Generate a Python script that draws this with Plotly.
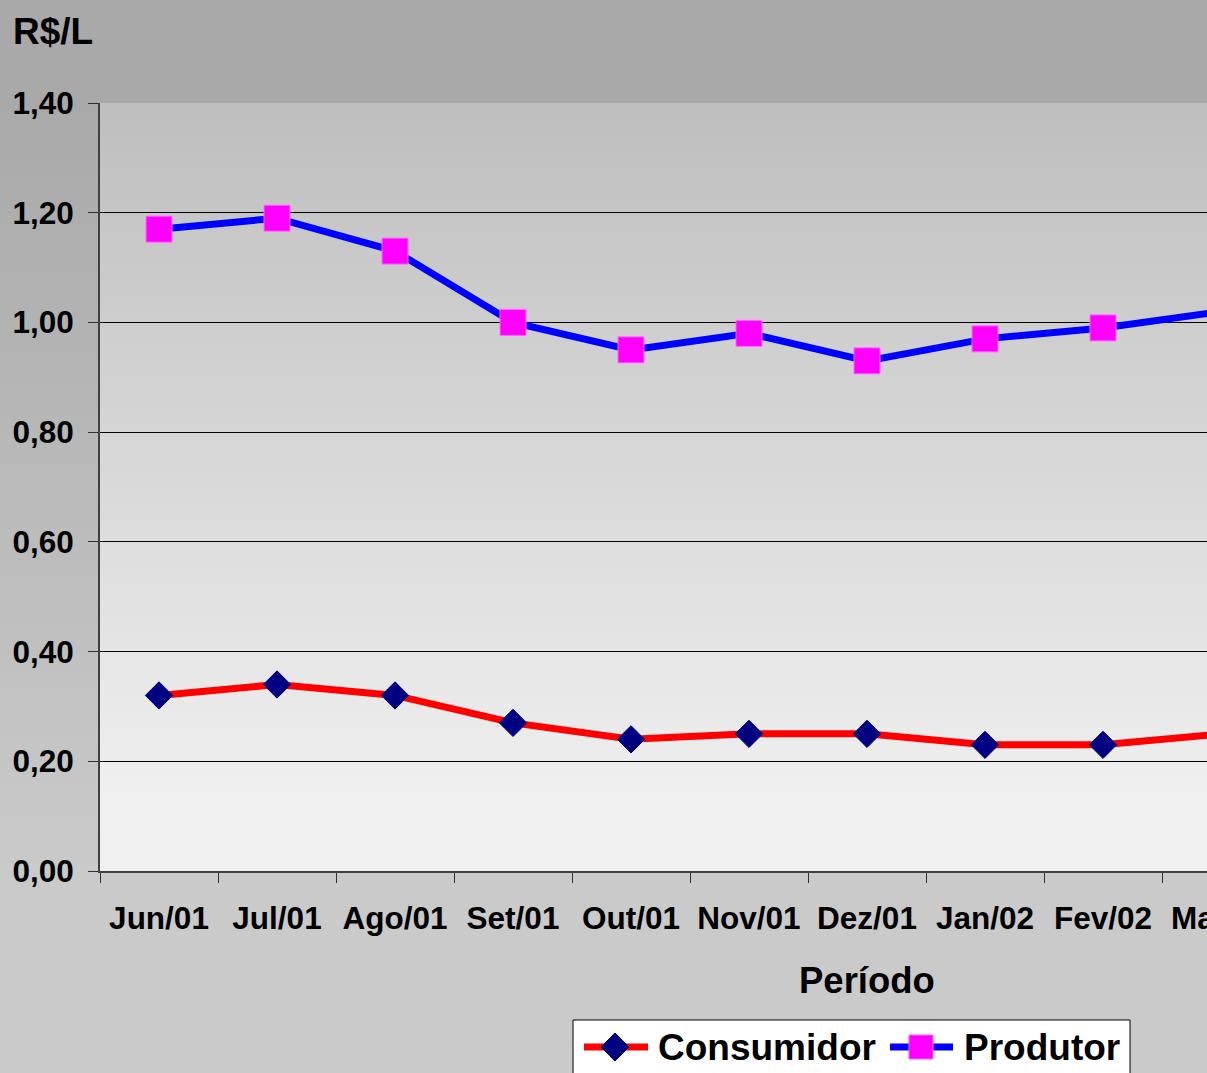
import plotly.graph_objects as go

# ---------------- data ----------------
periodos = ["Jun/01", "Jul/01", "Ago/01", "Set/01", "Out/01", "Nov/01",
            "Dez/01", "Jan/02", "Fev/02", "Mar/02"]
consumidor = [0.32, 0.34, 0.32, 0.27, 0.24, 0.25, 0.25, 0.23, 0.23, 0.25]
produtor = [1.17, 1.19, 1.13, 1.00, 0.95, 0.98, 0.93, 0.97, 0.99, 1.02]
y_ticks = [0.0, 0.2, 0.4, 0.6, 0.8, 1.0, 1.2, 1.4]

# ---------------- geometry ----------------
W, H = 1207, 1073
L, T, R = 100, 103, 0
B = H - 871
PW = W - L - R
PH = H - T - B

def px(xp):
    return (xp - L) / PW

def py(yp):
    return (H - B - yp) / PH

FONT = "Liberation Sans, Arial, sans-serif"
TICK_SIZE = 31.5

shapes = []
# paper background gradient (banded)
step = 16
for y0 in range(0, H, step):
    y1 = min(H, y0 + step)
    mid = (y0 + y1) / 2
    if mid < 100:
        g = 169
    else:
        t = min(1.0, (mid - 100) / 770)
        g = round(169 + (202 - 169) * t)
    shapes.append(dict(type="rect", xref="paper", yref="paper", layer="below",
                       x0=px(0), x1=px(W), y0=py(y1), y1=py(y0),
                       fillcolor=f"rgb({g},{g},{g})", line=dict(width=0)))
# plot area gradient (banded)
for y0 in range(T, H - B, step):
    y1 = min(H - B, y0 + step)
    mid = (y0 + y1) / 2
    t = min(1.0, (mid - T) / (800 - T))
    g = round(190 + (240 - 190) * t)
    shapes.append(dict(type="rect", xref="paper", yref="paper", layer="below",
                       x0=0, x1=1, y0=py(y1), y1=py(y0),
                       fillcolor=f"rgb({g},{g},{g})", line=dict(width=0)))

# manual legend
leg_y = 1047
shapes.append(dict(type="rect", xref="paper", yref="paper", layer="above",
                   x0=px(573), x1=px(1130), y0=py(1110), y1=py(1020),
                   fillcolor="white", line=dict(color="black", width=1)))
shapes.append(dict(type="line", xref="paper", yref="paper", layer="above",
                   x0=px(584), x1=px(648), y0=py(leg_y), y1=py(leg_y),
                   line=dict(color="#ff0000", width=7)))
cx, r = 615, 14
shapes.append(dict(type="path", xref="paper", yref="paper", layer="above",
                   path=(f"M {px(cx)},{py(leg_y - r)} L {px(cx + r)},{py(leg_y)} "
                         f"L {px(cx)},{py(leg_y + r)} L {px(cx - r)},{py(leg_y)} Z"),
                   fillcolor="#000080", line=dict(color="#000080", width=1)))
shapes.append(dict(type="line", xref="paper", yref="paper", layer="above",
                   x0=px(890), x1=px(953), y0=py(leg_y), y1=py(leg_y),
                   line=dict(color="#0000ff", width=7)))
cx, r = 921, 12
shapes.append(dict(type="rect", xref="paper", yref="paper", layer="above",
                   x0=px(cx - r), x1=px(cx + r), y0=py(leg_y + r), y1=py(leg_y - r),
                   fillcolor="#ff00ff", line=dict(color="#ff66ff", width=1)))

annotations = [
    dict(text="R$/L", xref="paper", yref="paper", x=px(11), y=py(32),
         xanchor="left", yanchor="middle", showarrow=False,
         font=dict(family=FONT, size=37, color="black", weight="bold")),
    dict(text="Período", xref="paper", yref="paper", x=px(867), y=py(980),
         xanchor="center", yanchor="middle", showarrow=False,
         font=dict(family=FONT, size=36.5, color="black", weight="bold")),
    dict(text=periodos[-1], xref="paper", yref="paper", x=px(1221), y=py(918),
         xanchor="center", yanchor="middle", showarrow=False,
         font=dict(family=FONT, size=TICK_SIZE, color="black", weight="bold")),
    dict(text="Consumidor", xref="paper", yref="paper", x=px(656), y=py(leg_y),
         xanchor="left", yanchor="middle", showarrow=False,
         font=dict(family=FONT, size=37, color="black", weight="bold")),
    dict(text="Produtor", xref="paper", yref="paper", x=px(962), y=py(leg_y),
         xanchor="left", yanchor="middle", showarrow=False,
         font=dict(family=FONT, size=37, color="black", weight="bold")),
]

fig = go.Figure()
fig.add_trace(go.Scatter(
    x=periodos, y=consumidor, name="Consumidor", mode="lines+markers",
    line=dict(color="#ff0000", width=7),
    marker=dict(symbol="diamond", size=21, color="#000080",
                line=dict(color="#000080", width=1)),
))
fig.add_trace(go.Scatter(
    x=periodos, y=produtor, name="Produtor", mode="lines+markers",
    line=dict(color="#0000ff", width=7),
    marker=dict(symbol="square", size=26, color="#ff00ff",
                line=dict(color="#ff66ff", width=1)),
))

fig.update_layout(
    width=W, height=H,
    margin=dict(l=L, r=R, t=T, b=B, pad=0, autoexpand=False),
    paper_bgcolor="#cacaca",
    plot_bgcolor="rgba(0,0,0,0)",
    separators=",.",
    showlegend=False,
    shapes=shapes,
    annotations=annotations,
    font=dict(family=FONT, color="black"),
    xaxis=dict(
        type="category", categoryorder="array", categoryarray=periodos,
        range=[-0.5, -0.5 + PW / 118.0],
        tickson="boundaries", ticks="outside", ticklen=10, tickwidth=1,
        tickcolor="#303030", showgrid=False, showline=True,
        linecolor="#404040", linewidth=2, zeroline=False,
        tickfont=dict(family=FONT, size=TICK_SIZE, color="black", weight="bold"),
        ticklabelstandoff=18,
    ),
    yaxis=dict(
        range=[0, 1.4], tickvals=y_ticks, tickformat=".2f",
        ticks="outside", ticklen=10, tickwidth=1, tickcolor="#303030",
        showgrid=True, gridcolor="#000000", gridwidth=1,
        showline=True, linecolor="#404040", linewidth=2, zeroline=False,
        tickfont=dict(family=FONT, size=TICK_SIZE, color="black", weight="bold"),
        ticklabelstandoff=8,
    ),
)

fig.write_html(
    "out.html",
    config={"displayModeBar": False},
    post_script="document.body.style.margin='0';document.body.style.overflow='hidden';",
)
